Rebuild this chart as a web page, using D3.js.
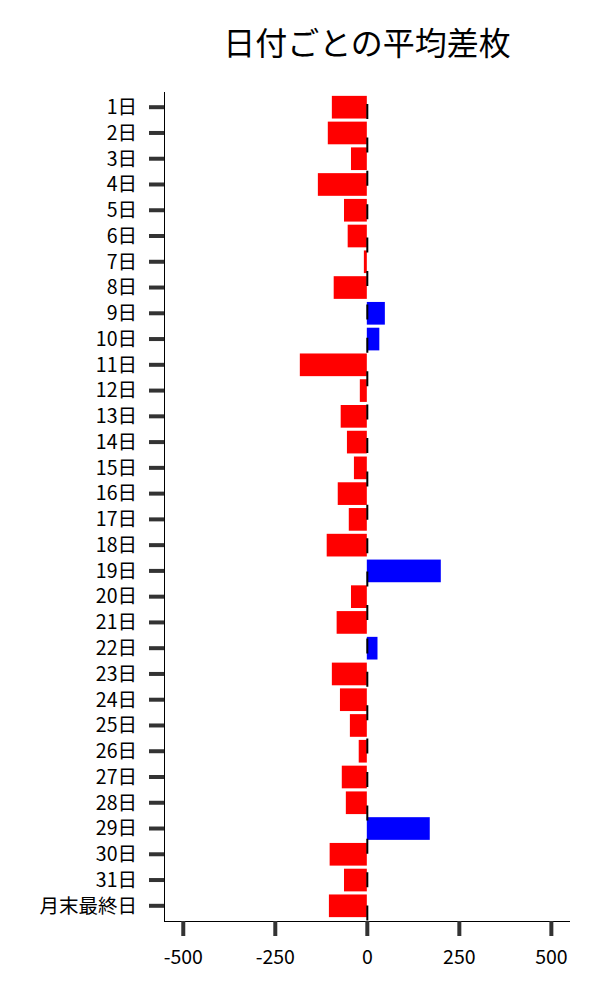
<!DOCTYPE html>
<html><head><meta charset="utf-8">
<script src="https://cdn.jsdelivr.net/npm/d3@7"></script>
<style>body{margin:0;background:#fff}text{font-family:"Noto Sans CJK JP","Noto Sans",sans-serif}</style>
</head><body><svg id="c" width="600" height="1000"></svg>
<script>
const categories = ["1日","2日","3日","4日","5日","6日","7日","8日","9日","10日","11日","12日","13日","14日","15日","16日","17日","18日","19日","20日","21日","22日","23日","24日","25日","26日","27日","28日","29日","30日","31日","月末最終日"];
const values = [-95,-106,-43,-133,-62,-52,-8,-90,49,34,-182,-19,-71,-54,-35,-79,-49,-109,201,-43,-82,29,-95,-73,-46,-22,-68,-57,171,-101,-62,-103];
const xTicks = [-500,-250,0,250,500];
const xTickLabels = ["-500","-250","0","250","500"];
const title = "日付ごとの平均差枚";

const svg = d3.select("#c");
const L=164, R=570, T=92, B=921;
const x = d3.scaleLinear().domain([-551,552]).range([L,R]);
const y = d3.scaleBand().domain(categories).range([T,B]).paddingInner(0.12).paddingOuter(0.15);

svg.append("g").selectAll("rect").data(values).join("rect")
  .attr("x",(d)=>x(Math.min(0,d))).attr("width",d=>Math.abs(x(d)-x(0)))
  .attr("y",(d,i)=>y(categories[i])).attr("height",y.bandwidth())
  .attr("fill",d=>d<0?"#ff0000":"#0000ff");

// dashed zero line
svg.append("line").attr("x1",x(0)+0.5).attr("x2",x(0)+0.5).attr("y1",T).attr("y2",B)
  .attr("stroke","#000").attr("stroke-width",2).attr("stroke-dasharray","15,18.4").attr("stroke-dashoffset",21.4);

// y axis
const ya = svg.append("g").attr("transform",`translate(${L},0)`).call(d3.axisLeft(y).tickSize(15).tickPadding(12));
ya.select(".domain").attr("d",`M0.5,${T}V${B}`).attr("stroke","#000");
ya.selectAll(".tick line").attr("stroke","#333").attr("stroke-width",4);
ya.selectAll(".tick text").attr("font-size",19.5).attr("fill","#000").attr("dy","0.35em");

// x axis
const xa = svg.append("g").attr("transform",`translate(0,${B})`)
  .call(d3.axisBottom(x).tickValues(xTicks).tickFormat((d,i)=>xTickLabels[i]).tickSize(15).tickPadding(14));
xa.select(".domain").attr("d",`M${L},0.5H${R}`).attr("stroke","#000");
xa.selectAll(".tick line").attr("stroke","#333").attr("stroke-width",4);
xa.selectAll(".tick text").attr("font-size",19.5).attr("fill","#000");

svg.append("text").attr("x",(L+R)/2).attr("y",55).attr("text-anchor","middle")
  .attr("font-size",32).attr("fill","#000").text(title);
</script></body></html>
